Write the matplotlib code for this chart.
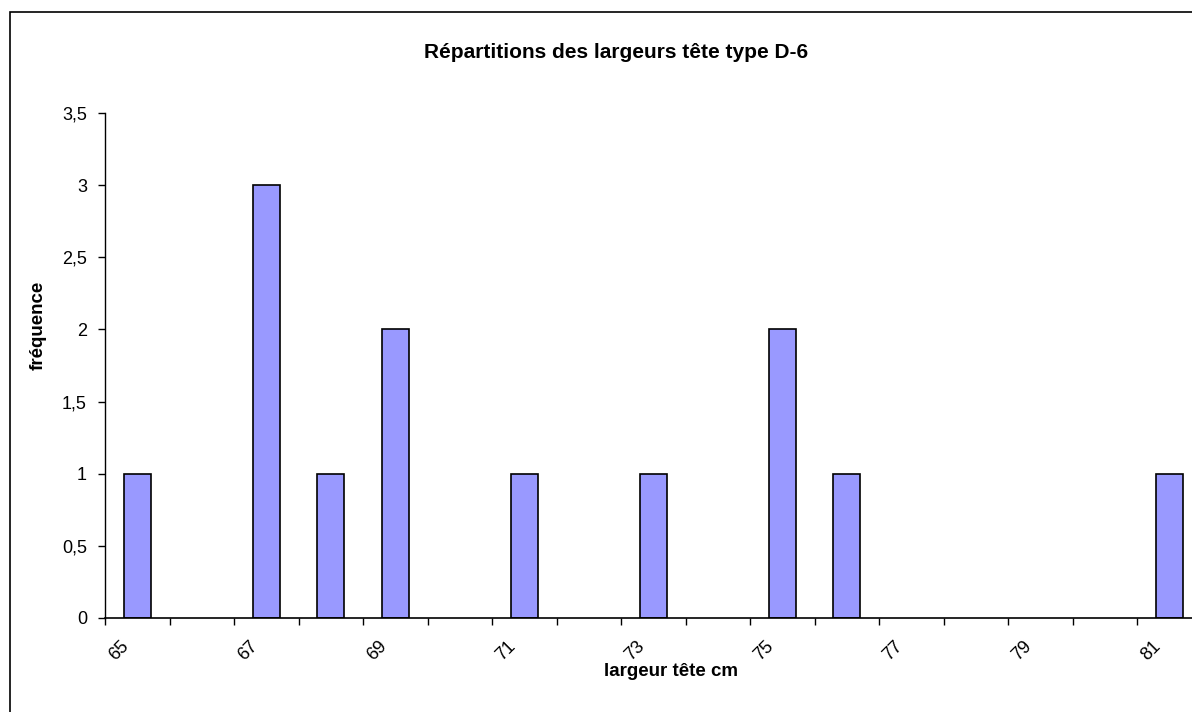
import matplotlib
matplotlib.use("Agg")
import matplotlib.pyplot as plt
import matplotlib.transforms as mtransforms
from matplotlib.patches import Rectangle
import numpy as np

# =========================
# Data
# =========================
widths = [65, 66, 67, 68, 69, 70, 71, 72, 73, 74, 75, 76, 77, 78, 79, 80, 81]
counts = [1, 0, 3, 1, 2, 0, 1, 0, 1, 0, 2, 1, 0, 0, 0, 0, 1]
tick_labels = ["65", "67", "69", "71", "73", "75", "77", "79", "81"]
y_ticks = [0, 0.5, 1, 1.5, 2, 2.5, 3, 3.5]

TITLE = "Répartitions des largeurs tête type D-6"
XLABEL = "largeur tête cm"
YLABEL = "fréquence"

plt.rcParams["font.family"] = ["Liberation Sans", "DejaVu Sans"]

W, H = 1192, 712
fig = plt.figure(figsize=(W / 100, H / 100), dpi=100)

# outer chart frame (clipped on right / bottom like the original)
fig.patches.append(Rectangle((10 / W, -0.1), 1.2, 1 - 12 / H + 0.1,
                             transform=fig.transFigure, fill=False,
                             edgecolor="black", linewidth=1.2))

# plot area: 17 categories of ~64.5 px, starting at x=105
left, right = 105, 105 + 17 * 64.5
top, bottom = 113, 618
ax = fig.add_axes([left / W, 1 - bottom / H, (right - left) / W, (bottom - top) / H])

x = np.arange(len(widths))
bars = ax.bar(x, counts, width=0.42, color="#9999FF", edgecolor="black", linewidth=1.2)
for b, c in zip(bars, counts):
    if c == 0:
        b.set_linewidth(0)

ax.set_xlim(-0.5, len(widths) - 0.5)
ax.set_ylim(0, 3.5)

for s in ["top", "right"]:
    ax.spines[s].set_visible(False)
ax.spines["left"].set_linewidth(1.0)
ax.spines["bottom"].set_linewidth(1.2)

# y axis
ax.set_yticks(y_ticks)
ax.set_yticklabels([("%g" % v).replace(".", ",") for v in y_ticks], fontsize=13)
ax.tick_params(axis="y", direction="out", length=5, width=1, pad=8)

# x axis: tick marks at category boundaries, labels every other category
ax.set_xticks(np.arange(-0.5, len(widths), 1), minor=True)
ax.set_xticks(x[::2])
ax.set_xticklabels(tick_labels, rotation=45, ha="right", va="top", fontsize=13)
ax.tick_params(axis="x", which="minor", direction="out", length=5, width=1)
ax.tick_params(axis="x", which="major", length=0, pad=14)
offset = mtransforms.ScaledTranslation(-5 / 100, 0, fig.dpi_scale_trans)
for lbl in ax.get_xticklabels():
    lbl.set_transform(lbl.get_transform() + offset)

# texts
fig.text(616 / W, 1 - 52 / H, TITLE, ha="center", va="center",
         fontsize=15, fontweight="bold")
fig.text(671 / W, 1 - 672 / H, XLABEL, ha="center", va="center",
         fontsize=13.5, fontweight="bold")
fig.text(38 / W, 1 - 325 / H, YLABEL, ha="center", va="center",
         rotation=90, fontsize=13.5, fontweight="bold")

fig.savefig("out.png", dpi=100)
